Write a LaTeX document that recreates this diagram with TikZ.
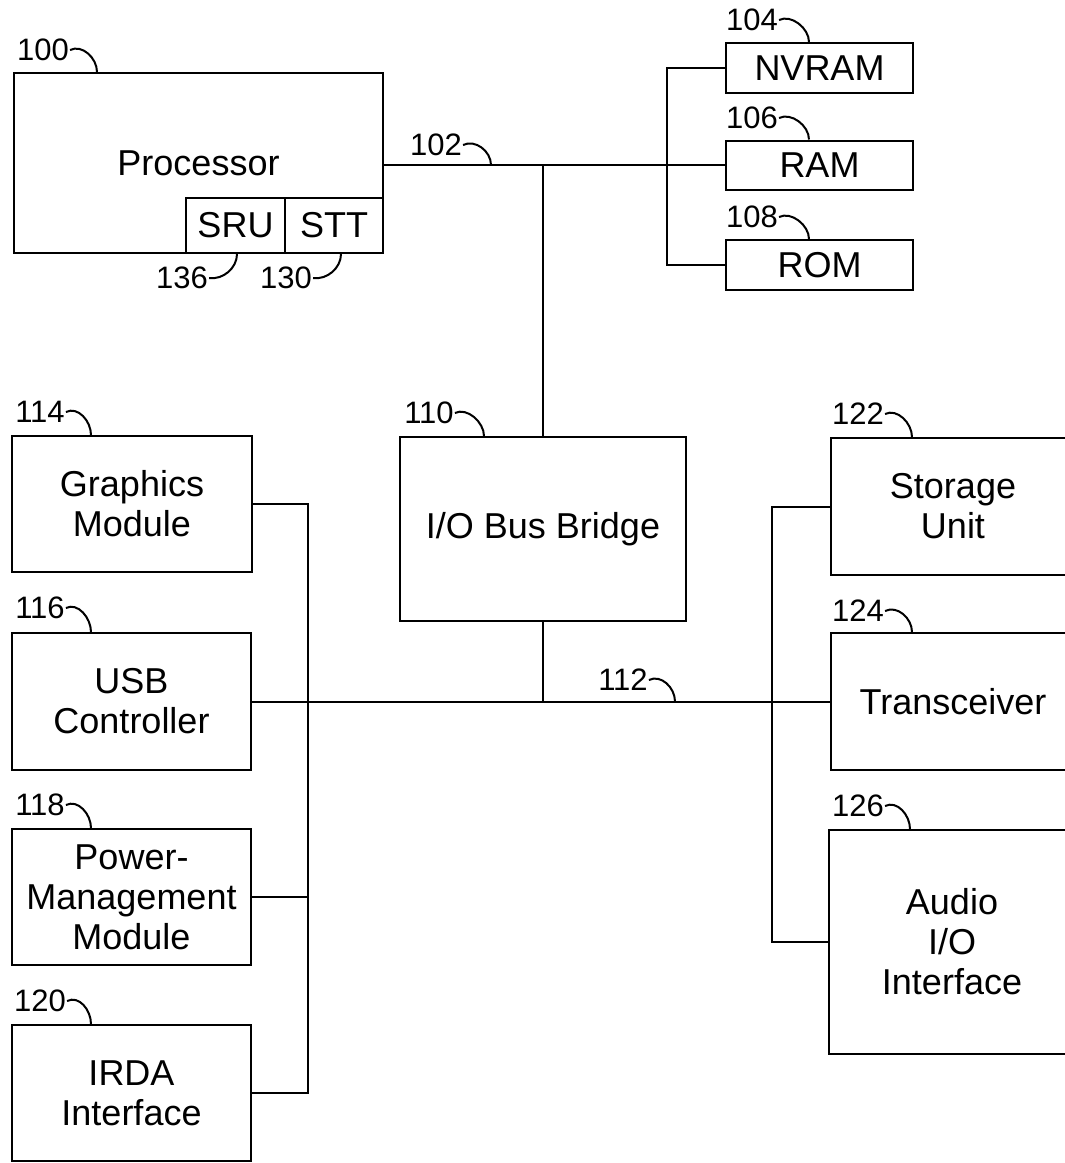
\documentclass[tikz,border=0pt]{standalone}
\usepackage{fontspec}
\setmainfont{Liberation Sans}
\usetikzlibrary{calc}
\begin{document}
\begin{tikzpicture}[x=1pt,y=-1pt,
  box/.style={draw,line width=2pt,inner sep=0pt,align=center,font=\fontsize{36}{40}\selectfont},
  num/.style={inner sep=1pt,font=\fontsize{31}{34}\selectfont},
  wire/.style={line width=2pt},
  leader/.style={line width=2pt},
  leadtop/.style={to path={.. controls +(12,-6) and +(0,-14) .. (\tikztotarget)}},
  leadbot/.style={to path={.. controls +(14,2) and +(0,14) .. (\tikztotarget)}}]
\useasboundingbox (0,0) rectangle (1065,1163);
\clip (0,0) rectangle (1065,1163);

% processor
\node[box,minimum width=369pt,minimum height=180pt] (proc) at (198.5,163) {Processor};
\node[box,minimum width=99pt,minimum height=55pt] (sru) at (235.5,225.5) {SRU};
\node[box,minimum width=98pt,minimum height=55pt] (stt) at (334,225.5) {STT};

% memories
\node[box,minimum width=187pt,minimum height=50pt] (nvram) at (819.5,68) {NVRAM};
\node[box,minimum width=187pt,minimum height=49pt] (ram) at (819.5,165) {RAM};
\node[box,minimum width=187pt,minimum height=50pt] (rom) at (819.5,265) {ROM};

% bridge
\node[box,minimum width=286pt,minimum height=184pt] (bridge) at (543,529) {I/O Bus Bridge};

% left modules
\node[box,minimum width=240pt,minimum height=136pt] (gfx) at (132,504) {Graphics\\Module};
\node[box,minimum width=239pt,minimum height=137pt] (usb) at (131.5,701.5) {USB\\Controller};
\node[box,minimum width=239pt,minimum height=136pt] (pwr) at (131.5,897) {Power-\\Management\\Module};
\node[box,minimum width=239pt,minimum height=136pt] (irda) at (131.5,1093) {IRDA\\Interface};

% right modules
\node[box,minimum width=244pt,minimum height=137pt] (stor) at (953,506.5) {Storage\\Unit};
\node[box,minimum width=244pt,minimum height=137pt] (trans) at (953,701.5) {Transceiver};
\node[box,minimum width=246pt,minimum height=224pt] (audio) at (952,942) {Audio\\I/O\\Interface};

% bus 102
\coordinate (p102) at (proc.east |- ram.west);
\coordinate (j102) at (bridge.north |- ram.west);
\draw[wire] (p102) -- (ram.west);
\draw[wire] (j102) -- (bridge.north);
\draw[wire] (nvram.west) -- ++(-58,0) |- (rom.west);

% bus 112
\coordinate (lb) at (308,0);
\coordinate (rb) at (772,0);
\draw[wire] (usb.east) -- (trans.west);
\draw[wire] (bridge.south) -- (bridge.south |- usb.east);
\draw[wire] (gfx.east) -- (gfx.east -| lb) -- (irda.east -| lb) -- (irda.east);
\draw[wire] (pwr.east) -- (pwr.east -| lb);
\draw[wire] (stor.west) -- (stor.west -| rb) -- (audio.west -| rb) -- (audio.west);

% reference numerals
\node[num] (l100) at (43,50) {100};
\node[num] (l102) at (436,145) {102};
\node[num] (l104) at (752,20) {104};
\node[num] (l106) at (752,118) {106};
\node[num] (l108) at (752,217) {108};
\node[num] (l136) at (182,278) {136};
\node[num] (l130) at (286,278) {130};
\node[num] (l110) at (429,413) {110};
\node[num] (l112) at (623,680) {112};
\node[num] (l114) at (40,412) {114};
\node[num] (l116) at (40,608) {116};
\node[num] (l118) at (40,805) {118};
\node[num] (l120) at (40,1001) {120};
\node[num] (l122) at (858,414) {122};
\node[num] (l124) at (858,611) {124};
\node[num] (l126) at (858,806) {126};

\coordinate (t102) at ($(p102)+(107,0)$);
\coordinate (t112) at ($(usb.east)+(423,0)$);

\draw[leader] (l100.east) to[leadtop] ($(proc.north west)+(84,0)$);
\draw[leader] (l102.east) to[leadtop] (t102);
\draw[leader] (l104.east) to[leadtop] ($(nvram.north west)+(84,0)$);
\draw[leader] (l106.east) to[leadtop] ($(ram.north west)+(84,0)$);
\draw[leader] (l108.east) to[leadtop] ($(rom.north west)+(84,0)$);
\draw[leader] (l136.east) to[leadbot] ($(sru.south west)+(52,0)$);
\draw[leader] (l130.east) to[leadbot] ($(stt.south west)+(57,0)$);
\draw[leader] (l110.east) to[leadtop] ($(bridge.north west)+(85,0)$);
\draw[leader] (l112.east) to[leadtop] (t112);
\draw[leader] (l114.east) to[leadtop] ($(gfx.north west)+(80,0)$);
\draw[leader] (l116.east) to[leadtop] ($(usb.north west)+(80,0)$);
\draw[leader] (l118.east) to[leadtop] ($(pwr.north west)+(80,0)$);
\draw[leader] (l120.east) to[leadtop] ($(irda.north west)+(80,0)$);
\draw[leader] (l122.east) to[leadtop] ($(stor.north west)+(82,0)$);
\draw[leader] (l124.east) to[leadtop] ($(trans.north west)+(82,0)$);
\draw[leader] (l126.east) to[leadtop] ($(audio.north west)+(82,0)$);
\end{tikzpicture}
\end{document}
